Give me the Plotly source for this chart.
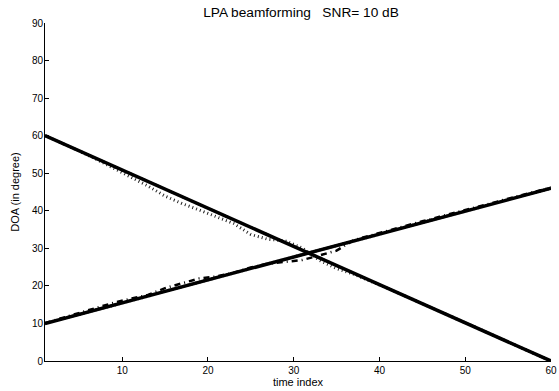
import plotly.graph_objects as go

# Time axis
t_true = [1, 60]
t_est = [1, 3, 5, 7, 9, 11, 13, 15, 17, 19, 21, 23, 25, 27, 29, 31, 33, 35,
         37, 39, 41, 43, 45, 47, 49, 51, 53, 55, 57, 59, 60]

# True directions of arrival (degrees)
doa_src1_true = [60, 0]
doa_src2_true = [10, 46]

# Estimator A (dash-dot) tracks
est_a_src1 = [60.0, 58.0, 55.9, 53.9, 51.9, 49.8, 47.8, 45.8, 43.7, 41.7, 39.7,
              37.6, 35.6, 33.6, 31.5, 29.5, 27.5, 25.4, 23.4, 21.4, 19.3, 17.3,
              15.3, 13.2, 11.2, 9.2, 7.1, 5.1, 3.0, 1.0, 0.0]
est_a_src2 = [10.1, 11.5, 12.9, 14.2, 15.5, 16.6, 17.6, 19.4, 20.6, 22.0, 22.5,
              23.5, 24.9, 25.9, 26.4, 26.9, 28.1, 29.4, 32.2, 33.5, 34.7, 35.9,
              37.2, 38.4, 39.6, 40.8, 42.0, 43.3, 44.5, 45.7, 46.2]

# Estimator B (dotted) tracks
est_b_src1 = [60.0, 58.0, 55.9, 53.7, 51.4, 49.1, 46.6, 43.9, 41.9, 40.2, 38.5,
              36.6, 33.7, 32.4, 32.0, 30.1, 26.8, 24.6, 23.1, 21.3, 19.3, 17.3,
              15.3, 13.2, 11.2, 9.2, 7.1, 5.1, 3.0, 1.0, 0.0]
est_b_src2 = [10.0, 11.2, 12.4, 13.7, 14.9, 16.1, 17.3, 18.5, 19.8, 21.0, 22.2,
              23.4, 24.6, 25.9, 27.1, 28.3, 29.5, 30.8, 32.0, 33.2, 34.4, 35.6,
              36.9, 38.1, 39.3, 40.5, 41.7, 43.0, 44.2, 45.4, 46.0]

x_ticks = [10, 20, 30, 40, 50, 60]
y_ticks = [0, 10, 20, 30, 40, 50, 60, 70, 80, 90]

FONT = "Liberation Sans, Arial, Helvetica, sans-serif"
NBSP = "\u00a0"

fig = go.Figure()

dotted = dict(color="#222222", width=3, dash="1px,3px")
dashdot = dict(color="black", width=2.5, dash="6px,4px,1px,4px")
solid = dict(color="black", width=3.5)

for y in (est_b_src1, est_b_src2):
    fig.add_trace(go.Scatter(x=t_est, y=y, mode="lines", line=dotted,
                             showlegend=False, hoverinfo="skip"))
for y in (est_a_src1, est_a_src2):
    fig.add_trace(go.Scatter(x=t_est, y=y, mode="lines", line=dashdot,
                             showlegend=False, hoverinfo="skip"))
for y in (doa_src1_true, doa_src2_true):
    fig.add_trace(go.Scatter(x=t_true, y=y, mode="lines", line=solid,
                             showlegend=False, hoverinfo="skip"))

title_text = "LPA beamforming" + NBSP * 3 + "SNR=" + NBSP + "10 dB"

fig.update_layout(
    width=559, height=391,
    margin=dict(l=45, r=8, t=23, b=30),
    paper_bgcolor="white", plot_bgcolor="white",
    font=dict(family=FONT, size=10, color="black"),
    title=dict(text=title_text, x=301 / 559, xref="container",
               xanchor="center", y=1 - 12 / 391, yref="container",
               yanchor="middle", font=dict(size=13.7, family=FONT)),
    showlegend=False,
)
fig.update_xaxes(
    range=[1, 60], tickvals=x_ticks, ticks="inside", ticklen=4,
    tickcolor="black", showline=True, linecolor="black", linewidth=1,
    showgrid=False, zeroline=False, mirror=False, automargin=False,
    title=dict(text="time index", standoff=3, font=dict(size=11)),
)
fig.update_yaxes(
    range=[0, 90], tickvals=y_ticks, ticks="inside", ticklen=4,
    tickcolor="black", showline=True, linecolor="black", linewidth=1,
    showgrid=False, zeroline=False, mirror=False, automargin=False,
    ticklabelstandoff=-1,
    title=dict(text="DOA (in degree)", standoff=10, font=dict(size=11)),
)

fig.write_html("out.html")
